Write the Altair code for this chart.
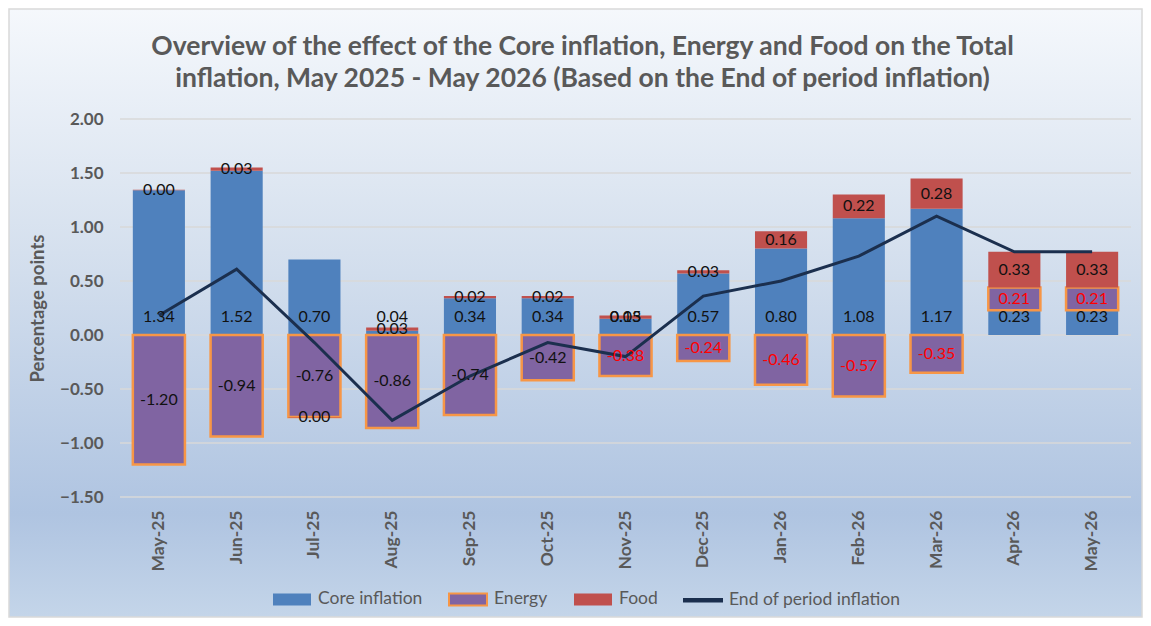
import altair as alt
import pandas as pd

months = ["May-25", "Jun-25", "Jul-25", "Aug-25", "Sep-25", "Oct-25", "Nov-25",
          "Dec-25", "Jan-26", "Feb-26", "Mar-26", "Apr-26", "May-26"]
core = [1.34, 1.52, 0.70, 0.04, 0.34, 0.34, 0.15, 0.57, 0.80, 1.08, 1.17, 0.23, 0.23]
energy = [-1.20, -0.94, -0.76, -0.86, -0.74, -0.42, -0.38, -0.24, -0.46, -0.57, -0.35, 0.21, 0.21]
food = [0.004, 0.03, -0.004, 0.03, 0.02, 0.02, 0.03, 0.03, 0.16, 0.22, 0.28, 0.33, 0.33]
total = [0.18, 0.61, -0.07, -0.79, -0.38, -0.07, -0.20, 0.36, 0.50, 0.73, 1.10, 0.77, 0.77]
y_ticks = [-1.5, -1.0, -0.5, 0.0, 0.5, 1.0, 1.5, 2.0]

series_names = ["Core inflation", "Energy", "Food", "End of period inflation"]
fill_colors = ["#4F81BD", "#8064A2", "#C0504D", "#1B2F4E"]
stroke_colors = ["transparent", "#F79646", "transparent", "#1B2F4E"]


def fmt(v):
    s = f"{v:.2f}"
    return "0.00" if s == "-0.00" else s


rows = []
for i, m in enumerate(months):
    for k, (name, vals) in enumerate(zip(series_names[:3], [core, energy, food])):
        rows.append({"month": m, "idx": i, "series": name, "ord": k,
                     "value": vals[i], "label": fmt(vals[i])})
bars_df = pd.DataFrame(rows)
line_df = pd.DataFrame({"month": months, "series": series_names[3], "value": total})
grid_df = pd.DataFrame({"tick": y_ticks})
bg_df = pd.DataFrame({"a": [0]})

FONT = "Lato"
GREY = "#595959"
W, H = 1011, 378
PAD = {"left": 112, "top": 111, "right": 12, "bottom": 121}

RECT_PATH = "M-1,-0.32L1,-0.32L1,0.32L-1,0.32Z"
LINE_PATH = "M-1,-0.07L1,-0.07L1,0.07L-1,0.07Z"

fill_scale = alt.Scale(domain=series_names, range=fill_colors)
stroke_scale = alt.Scale(domain=series_names, range=stroke_colors)
shape_scale = alt.Scale(domain=series_names,
                        range=[RECT_PATH, RECT_PATH, RECT_PATH, LINE_PATH])
legend = alt.Legend(
    title=None, orient="none", direction="horizontal", legendX=152, legendY=460,
    labelFont=FONT, labelFontSize=17.5, labelColor=GREY, labelLimit=400,
    symbolSize=1444, symbolStrokeWidth=2, symbolOpacity=1,
    labelOffset=6, columnPadding=22,
)

x_enc = alt.X("month:N", sort=months, title=None,
              scale=alt.Scale(paddingInner=0.33, paddingOuter=0.165),
              axis=alt.Axis(labelAngle=-90, labelFont=FONT, labelFontSize=17.5,
                            labelFontWeight="bold", labelColor=GREY, domain=False,
                            ticks=False, labelPadding=13, grid=False, zindex=1))
y_scale = alt.Scale(domain=[-1.5, 2.0], nice=False)
y_axis = alt.Axis(values=y_ticks, format=".2f",
                  labelFont=FONT, labelFontSize=17, labelFontWeight="bold",
                  labelColor=GREY, labelPadding=17, domain=False, ticks=False,
                  grid=False, zindex=1,
                  title="Percentage points", titleFont=FONT, titleFontSize=18.5,
                  titleFontWeight="bold", titleColor=GREY, titlePadding=12)

background = alt.Chart(bg_df).mark_rect(
    fill=alt.Gradient(gradient="linear", x1=0, x2=0, y1=0, y2=1,
                      stops=[alt.GradientStop(color="#F5F8FC", offset=0),
                             alt.GradientStop(color="#D5E0EE", offset=0.4),
                             alt.GradientStop(color="#AFC4E1", offset=0.83),
                             alt.GradientStop(color="#C4D5E9", offset=1)]),
    stroke="#D9D9D9", strokeWidth=1.5,
).encode(x=alt.value(-PAD["left"] + 1), x2=alt.value(W + PAD["right"] - 1),
         y=alt.value(-PAD["top"] + 1), y2=alt.value(H + PAD["bottom"] - 1))

grid = alt.Chart(grid_df).mark_rule(color="#D9D9D9", strokeWidth=1.5).encode(
    y=alt.Y("tick:Q", scale=y_scale, axis=y_axis),
    x=alt.value(0), x2=alt.value(W),
)

base = alt.Chart(bars_df).transform_stack(
    stack="value", groupby=["month"], as_=["v0", "v1"], offset="zero",
    sort=[alt.SortField("ord", order="ascending")]
).transform_calculate(mid="(datum.v0 + datum.v1) / 2", zero="0")

bars = base.mark_bar(strokeWidth=2.5).encode(
    x=x_enc,
    y=alt.Y("v0:Q"),
    y2="v1:Q",
    fill=alt.Fill("series:N", scale=fill_scale, legend=legend),
    stroke=alt.Stroke("series:N", scale=stroke_scale, legend=legend),
)

legend_shapes = alt.Chart(line_df).transform_filter("false").mark_point(
    filled=True
).encode(
    shape=alt.Shape("series:N", scale=shape_scale, legend=legend),
    fill=alt.Fill("series:N", scale=fill_scale, legend=legend),
    stroke=alt.Stroke("series:N", scale=stroke_scale, legend=legend),
)

label_color = alt.condition("datum.series == 'Energy' && datum.idx >= 6",
                            alt.value("#FF0000"), alt.value("#111111"))

core_labels = base.transform_filter("datum.series == 'Core inflation'").mark_text(
    font=FONT, fontSize=16, dy=-18, baseline="middle"
).encode(x=alt.X("month:N", sort=months), y=alt.Y("zero:Q"), text="label:N",
         color=label_color)

other_labels = base.transform_filter("datum.series != 'Core inflation'").mark_text(
    font=FONT, fontSize=16, baseline="middle"
).encode(x=alt.X("month:N", sort=months), y=alt.Y("mid:Q"), text="label:N",
         color=label_color)

line = alt.Chart(line_df).mark_line(strokeWidth=3).encode(
    x=alt.X("month:N", sort=months),
    y=alt.Y("value:Q"),
    stroke=alt.Stroke("series:N", scale=stroke_scale, legend=legend),
)

chart = alt.layer(background, grid, bars, line, core_labels, other_labels,
                  legend_shapes).properties(
    width=W, height=H,
    autosize=alt.AutoSizeParams(type="none"),
    padding=PAD,
    title=alt.TitleParams(
        text=["Overview of the effect of the Core inflation, Energy and Food on the Total",
              "inflation, May 2025 - May 2026 (Based on the End of period inflation)"],
        font=FONT, fontSize=26.5, fontWeight="bold", color=GREY, anchor="middle",
        frame="group", dx=-43, offset=-84, lineHeight=32),
).configure_view(strokeWidth=0).configure(background="white")

chart.save("out.html", embed_options={"renderer": "svg", "actions": False})
